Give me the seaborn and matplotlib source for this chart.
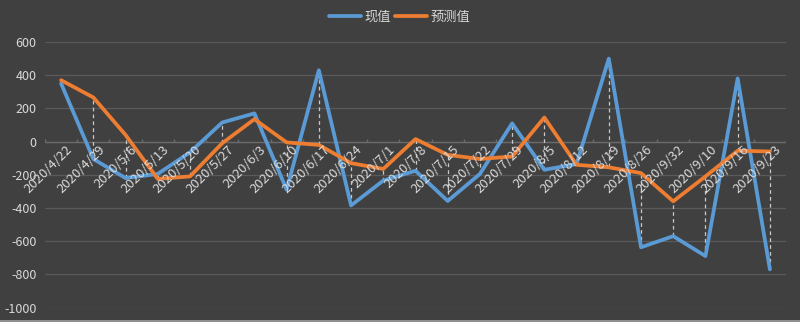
import numpy as np
import pandas as pd
import matplotlib
matplotlib.use("Agg")
import matplotlib.pyplot as plt
import seaborn as sns
from matplotlib.lines import Line2D

dates = ["2020/4/22", "2020/4/29", "2020/5/6", "2020/5/13", "2020/5/20", "2020/5/27",
         "2020/6/3", "2020/6/10", "2020/6/17", "2020/6/24", "2020/7/1", "2020/7/8",
         "2020/7/15", "2020/7/22", "2020/7/29", "2020/8/5", "2020/8/12", "2020/8/19",
         "2020/8/26", "2020/9/32", "2020/9/10", "2020/9/16", "2020/9/23"]
actual = [350, -105, -220, -195, -65, 115, 170, -290, 430, -385, -235, -176,
          -358, -195, 110, -170, -135, 500, -637, -570, -690, 380, -770]
forecast = [370, 266, 40, -225, -210, -10, 135, -5, -20, -130, -165, 15,
            -80, -105, -90, 145, -140, -155, -190, -360, -210, -55, -60]
series_names = ["现值", "预测值"]
yticks = [-1000, -800, -600, -400, -200, 0, 200, 400, 600]

bg = "#404040"
grid_c = "#5a5a5a"
text_c = "#d9d9d9"
colors = {"现值": "#5B9BD5", "预测值": "#ED7D31"}

sns.set_theme(style="dark")
plt.rcParams["font.family"] = ["Noto Sans CJK SC", "DejaVu Sans"]
plt.rcParams["axes.unicode_minus"] = False

n = len(dates)
idx = np.arange(n)
df = pd.DataFrame({
    "idx": np.concatenate([idx, idx]),
    "value": actual + forecast,
    "series": [series_names[0]] * n + [series_names[1]] * n,
})

fig = plt.figure(figsize=(8, 3.22), dpi=100, facecolor=bg)
ax = fig.add_axes([0.05625, 0.045, 0.92625, 0.8245])
ax.set_facecolor(bg)

# horizontal gridlines
for v in yticks:
    ax.axhline(v, color=grid_c, lw=0.9, zorder=0)
ax.axhline(0, color="#6a6a6a", lw=1.0, zorder=0)
# category tick marks on the zero axis
ax.vlines(np.arange(n + 1) - 0.5, 0, 14, color="#6a6a6a", lw=1.0, zorder=0)

# high-low lines between the two series
lo = np.minimum(actual, forecast)
hi = np.maximum(actual, forecast)
ax.vlines(idx, lo, hi, colors="#c8c8c8", linestyles=(0, (3, 2.5)), lw=0.9, zorder=1)

sns.lineplot(data=df, x="idx", y="value", hue="series", palette=colors,
             hue_order=series_names, lw=2.7, ax=ax, legend=False, zorder=3,
             sort=False)

ax.set_xlim(-0.5, n - 0.5)
ax.set_ylim(-1000, 600)
ax.set_yticks(yticks)
ax.set_yticklabels([str(v) for v in yticks], color=text_c, fontsize=9)
ax.set_xticks([])
ax.set_xlabel("")
ax.set_ylabel("")
ax.tick_params(axis="y", length=0, pad=6)
for s in ax.spines.values():
    s.set_visible(False)
ax.grid(False)

# rotated date labels hanging from the zero axis
for i, d in enumerate(dates):
    ax.text(i + 0.15, -8, d, rotation=45, ha="right", va="top",
            rotation_mode="anchor", color=text_c, fontsize=9.5, zorder=4)

handles = [Line2D([0], [0], color=colors[s], lw=2.7) for s in series_names]
leg = fig.legend(handles, series_names, loc="center", bbox_to_anchor=(0.5, 0.947),
                 ncol=2, frameon=False, fontsize=9.5, handlelength=2.4,
                 handletextpad=0.3, columnspacing=0.3)
for t in leg.get_texts():
    t.set_color(text_c)

# thin light edge along the bottom of the chart
fig.add_artist(Line2D([0, 1], [0.004, 0.004], transform=fig.transFigure,
                      color="#a0a0a0", lw=1.2))

fig.savefig("out.png", dpi=100, facecolor=bg)
